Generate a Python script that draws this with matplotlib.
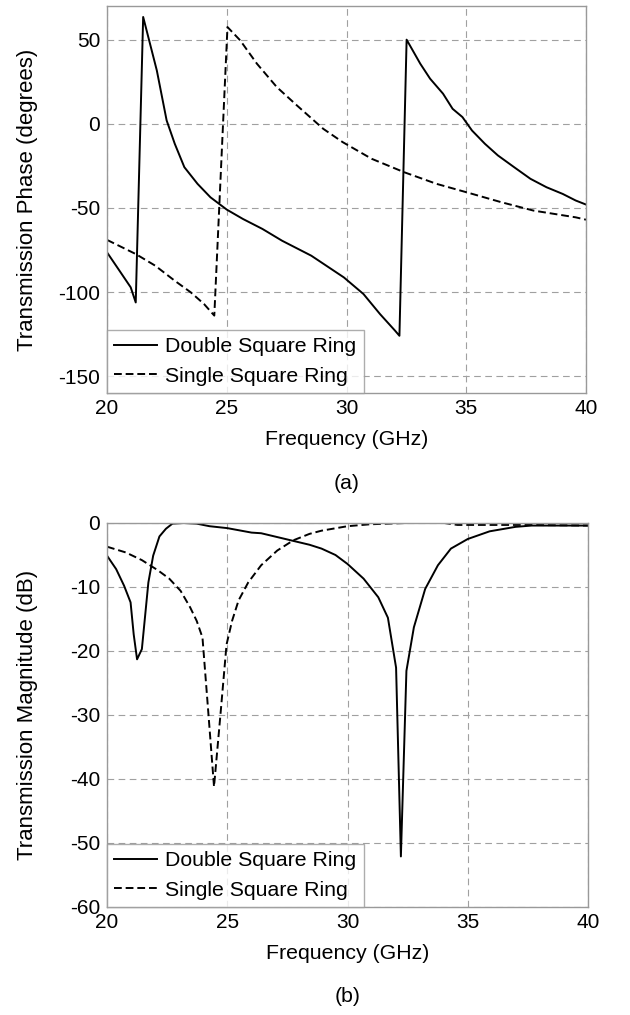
import matplotlib
matplotlib.use("Agg")
import matplotlib.pyplot as plt

# phase data (degrees)
f_phase_double = [20.0, 20.52, 20.99, 21.2, 21.51, 22.08, 22.49, 22.83, 23.23, 23.78, 24.32,
                  25.0, 25.68, 26.49, 27.31, 28.53, 29.89, 30.71, 31.4, 32.03, 32.21,
                  32.51, 33.08, 33.49, 34.03, 34.43, 34.84, 35.24, 35.78, 36.32, 37.0,
                  37.68, 38.35, 39.03, 39.57, 40.0]
phase_double = [-76.4, -87.3, -97.2, -106.2, 63.5, 31.7, 2.0, -11.9, -25.8, -35.7, -43.7,
                -51.0, -56.6, -62.5, -69.5, -78.4, -91.3, -101.2, -113.1, -123.0, -126.0,
                50.0, 35.7, 26.8, 17.9, 8.9, 4.0, -4.0, -11.9, -18.8, -25.8,
                -32.7, -37.7, -41.7, -45.6, -48.0]

f_phase_single = [20.0, 21.2, 22.01, 22.83, 23.5, 24.05, 24.48, 25.03, 25.56, 26.26, 27.09,
                  27.93, 29.03, 29.84, 31.05, 32.41, 33.76, 35.11, 36.46, 37.81, 39.57, 40.0]
phase_single = [-69.0, -77.4, -84.3, -93.3, -100.2, -107.1, -114.0, 57.5, 49.6, 35.7, 21.8,
                10.9, -3.0, -10.9, -20.8, -28.8, -35.7, -41.1, -46.6, -51.6, -55.6, -57.0]

# magnitude data (dB)
f_mag_double = [20.0, 20.38, 20.71, 20.98, 21.11, 21.25, 21.45, 21.72, 21.92, 22.18, 22.45,
                22.72, 23.19, 23.73, 24.26, 25.0, 26.01, 26.41, 27.08, 27.75, 28.42, 28.92,
                29.5, 30.0, 30.67, 31.28, 31.68, 32.02, 32.22, 32.45, 32.76, 33.23, 33.76,
                34.3, 35.0, 35.91, 36.99, 37.66, 39.41, 40.0]
mag_double = [-5.1, -7.2, -9.8, -12.4, -17.4, -21.3, -19.7, -9.3, -5.1, -2.1, -0.9,
              -0.1, 0.0, -0.1, -0.5, -0.8, -1.5, -1.6, -2.2, -2.8, -3.4, -4.0,
              -5.0, -6.4, -8.7, -11.6, -14.8, -22.6, -52.1, -23.1, -16.3, -10.3, -6.6,
              -4.0, -2.5, -1.3, -0.6, -0.4, -0.4, -0.4]

f_mag_single = [20.0, 20.78, 21.45, 22.12, 22.59, 23.06, 23.46, 23.73, 23.97, 24.2, 24.45,
                24.73, 24.97, 25.2, 25.47, 25.87, 26.41, 27.08, 27.75, 28.42, 28.92, 30.0,
                30.94, 32.42, 34.03, 34.57, 37.53, 40.0]
mag_single = [-3.7, -4.6, -5.8, -7.4, -8.7, -10.6, -13.2, -15.3, -17.9, -29.0, -41.2,
              -29.4, -19.0, -15.3, -12.1, -9.3, -6.6, -4.3, -2.7, -1.7, -1.2, -0.5,
              -0.2, 0.0, 0.0, -0.3, -0.3, -0.4]

labels = ["Double Square Ring", "Single Square Ring"]

plt.rcParams["font.family"] = ["Liberation Sans", "DejaVu Sans"]
plt.rcParams["axes.unicode_minus"] = False
FS = 15
W, H = 630, 1015

fig = plt.figure(figsize=(W / 100, H / 100), dpi=100)


def style_axes(ax, top_px, bot_px, right_px):
    for s in ax.spines.values():
        s.set_color("#999999")
        s.set_linewidth(1.0)
    ax.grid(True, color="#a0a0a0", linestyle=(0, (6, 4)), linewidth=0.8)
    ax.set_axisbelow(True)
    ax.tick_params(length=0, labelsize=FS, pad=5)
    ax.tick_params(axis="x", pad=4.5)
    h = bot_px - top_px
    w = right_px - 107
    ax.yaxis.set_label_coords((38 - 107) / w, 0.5)
    ax.xaxis.set_label_coords(0.5, -37 / h)


def add_legend(ax):
    leg = ax.legend(labels, loc="lower left", fontsize=15.3, frameon=True, fancybox=False,
                    borderaxespad=0, handlelength=2.0, handletextpad=0.38,
                    borderpad=0.35, labelspacing=0.5)
    leg.get_frame().set_edgecolor("#999999")
    leg.get_frame().set_linewidth(1.0)


# (a) phase
ax1 = fig.add_axes([107 / W, 1 - 393 / H, (586 - 107) / W, (393 - 6) / H])
ax1.plot(f_phase_double, phase_double, color="black", linewidth=1.4)
ax1.plot(f_phase_single, phase_single, color="black", linewidth=1.4, linestyle=(0, (4, 2)))
ax1.set_xlim(20, 40)
ax1.set_ylim(-160, 70)
ax1.set_xticks([20, 25, 30, 35, 40])
ax1.set_yticks([-150, -100, -50, 0, 50])
ax1.set_xlabel("Frequency (GHz)", fontsize=15.3)
ax1.set_ylabel("Transmission Phase (degrees)", fontsize=16)
style_axes(ax1, 6, 393, 586)
add_legend(ax1)
fig.text(346.5 / W, 1 - 483 / H, "(a)", fontsize=15.3, ha="center", va="center")

# (b) magnitude
ax2 = fig.add_axes([107 / W, 1 - 907 / H, (588 - 107) / W, (907 - 523) / H])
ax2.plot(f_mag_double, mag_double, color="black", linewidth=1.4)
ax2.plot(f_mag_single, mag_single, color="black", linewidth=1.4, linestyle=(0, (4, 2)))
ax2.set_xlim(20, 40)
ax2.set_ylim(-60, 0)
ax2.set_xticks([20, 25, 30, 35, 40])
ax2.set_yticks([-60, -50, -40, -30, -20, -10, 0])
ax2.set_xlabel("Frequency (GHz)", fontsize=15.3)
ax2.set_ylabel("Transmission Magnitude (dB)", fontsize=16)
style_axes(ax2, 523, 907, 588)
add_legend(ax2)
fig.text(347.5 / W, 1 - 997 / H, "(b)", fontsize=15.3, ha="center", va="center")

fig.savefig("out.png", dpi=100)
